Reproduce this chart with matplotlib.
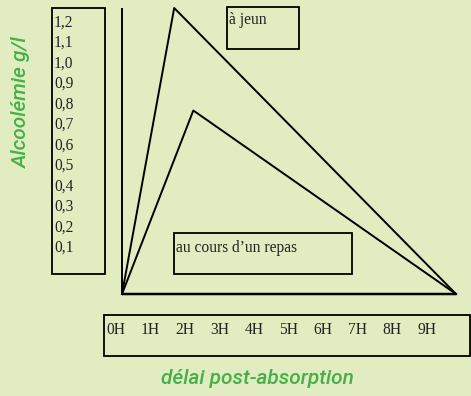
import matplotlib
matplotlib.use("Agg")
import matplotlib.pyplot as plt
from matplotlib.patches import Rectangle

# ---- data ----
y_tick_labels = ["1,2", "1,1", "1,0", "0,9", "0,8", "0,7", "0,6", "0,5", "0,4", "0,3", "0,2", "0,1"]
x_tick_labels = ["0H", "1H", "2H", "3H", "4H", "5H", "6H", "7H", "8H", "9H"]
fasting_t = [0, 1.5, 9.6]
fasting_v = [0, 1.2, 0]
meal_t = [0, 2.05, 9.6]
meal_v = [0, 0.77, 0]
label_fasting = "à jeun"
label_meal = "au cours d’un repas"

W, H = 471, 396
BG = "#e2ecc1"
GREEN = "#45b04a"
serif = ["Liberation Serif", "DejaVu Serif"]

fig = plt.figure(figsize=(W / 100, H / 100), dpi=100, facecolor=BG)

ov = fig.add_axes([0, 0, 1, 1])
ov.set_xlim(0, W)
ov.set_ylim(H, 0)
ov.axis("off")
ov.set_facecolor("none")

x0, x1, ytop, ybot = 122, 456, 8, 294
ax = fig.add_axes([x0 / W, (H - ybot) / H, (x1 - x0) / W, (ybot - ytop) / H])
ax.set_xlim(0, 9.6)
ax.set_ylim(0, 1.2)
ax.axis("off")
ax.patch.set_alpha(0)

lw = 1.4
ax.plot([0, 0], [0, 1.2], color="black", lw=lw, clip_on=False, solid_capstyle="butt")
ax.plot([0, 9.6], [0, 0], color="black", lw=lw + 0.4, clip_on=False, solid_capstyle="butt")
ax.plot(fasting_t, fasting_v, color="black", lw=lw, clip_on=False)
ax.plot(meal_t, meal_v, color="black", lw=lw, clip_on=False)

def box(xa, ya, xb, yb):
    ov.add_patch(Rectangle((xa, ya), xb - xa, yb - ya, fill=False, ec="black", lw=1.3))

FS = 11.2
TC = "#222222"
box(52, 8, 105, 274)
for i, t in enumerate(y_tick_labels):
    ov.text(54, 22.5 + i * 20.5, t, family=serif, fontsize=FS, color=TC,
            ha="left", va="center")

box(104, 315, 470, 356)
for i, t in enumerate(x_tick_labels):
    ov.text(106 + i * 34.6, 330, t, family=serif, fontsize=FS, color=TC,
            ha="left", va="center")

box(227, 7, 299, 49)
ov.text(229, 20, label_fasting, family=serif, fontsize=FS, color=TC,
        ha="left", va="center")
box(174, 233, 352, 274)
ov.text(176, 248, label_meal, family=serif, fontsize=FS, color=TC,
        ha="left", va="center")

tkw = dict(family=["Roboto", "DejaVu Sans"], style="italic", weight="medium", fontsize=15)
ov.text(257, 379, "délai post-absorption", color=GREEN, ha="center", va="center", **tkw)
ov.text(21, 102, "Alcoolémie g/l", color=GREEN, ha="center", va="center",
        rotation=90, **tkw)

fig.savefig("out.png", dpi=100, facecolor=BG)
